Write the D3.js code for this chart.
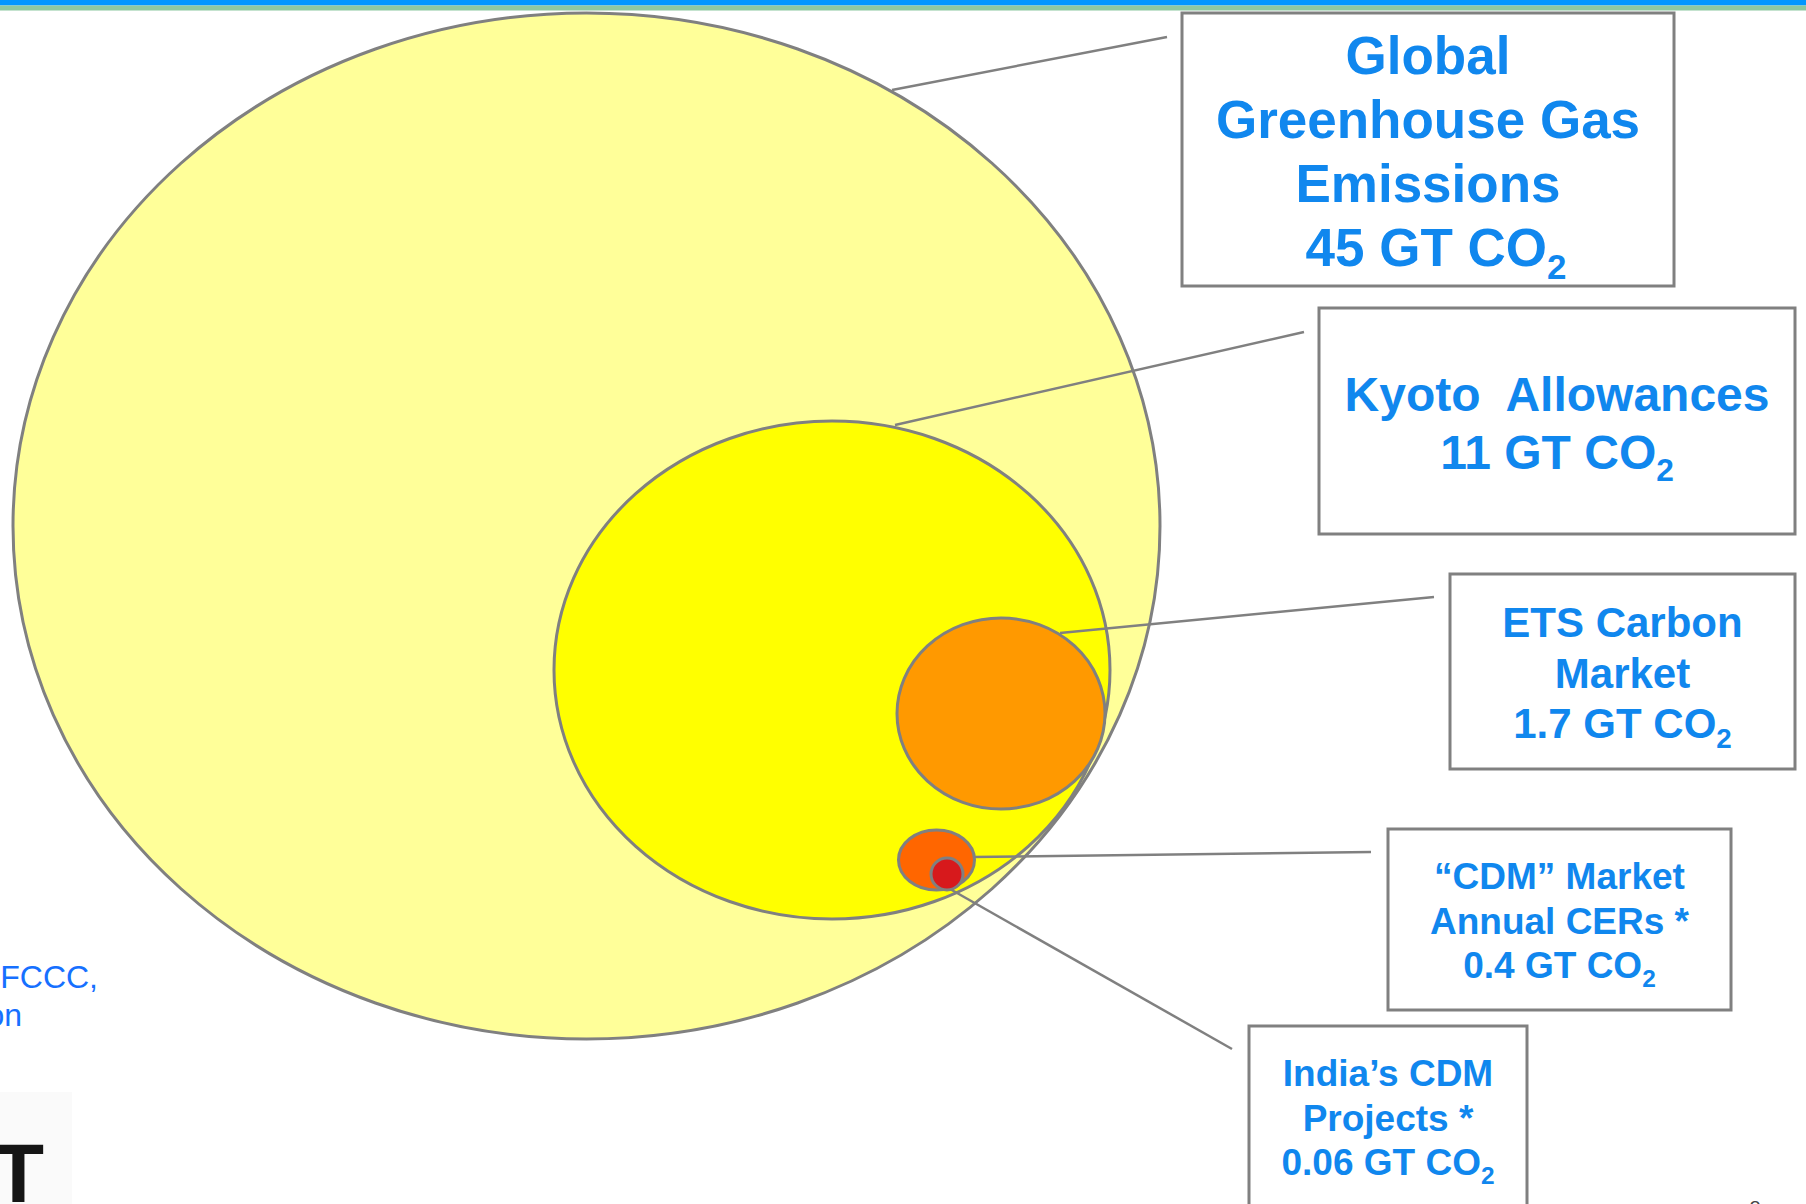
<!DOCTYPE html>
<html>
<head>
<meta charset="utf-8">
<script src="https://cdn.jsdelivr.net/npm/d3@7"></script>
<style>
  body { margin: 0; background: #fff; }
  svg { display: block; }
</style>
</head>
<body>
<div id="chart"></div>
<script>
//Data
var names = ["Global Greenhouse Gas Emissions", "Kyoto Allowances", "ETS Carbon Market", "CDM Market Annual CERs", "India's CDM Projects"];
var values = [45, 11, 1.7, 0.4, 0.06];   // GT CO2
var labelLines = [
	["Global", "Greenhouse Gas", "Emissions"],
	["Kyoto  Allowances"],
	["ETS Carbon", "Market"],
	["\u201CCDM\u201D Market", "Annual CERs *"],
	["India\u2019s CDM", "Projects *"]
];
var unit = "GT CO";
var sourceLines = ["Source: UNFCCC,", "European Commission"];

//Layout of the diagram (hand placed, like the slide)
var w = 1806, h = 1204;
var shapes = [
	{ cx: 586.5, cy: 526, rx: 573.5, ry: 513, fill: "#FFFF99" },
	{ cx: 832, cy: 670, rx: 278, ry: 249, fill: "#FFFF00" },
	{ cx: 1001, cy: 713.5, rx: 104, ry: 95.5, fill: "#FF9900" },
	{ cx: 936.5, cy: 860, rx: 38, ry: 30, fill: "#FF6600" },
	{ cx: 947, cy: 874, rx: 16, ry: 16, fill: "#D7191C" }
];
var boxes = [
	{ x: 1182, y: 13, w: 492, h: 273, fs: 53, lh: 64, top: 74, shift: 8 },
	{ x: 1319, y: 308, w: 476, h: 226, fs: 48, lh: 58, top: 411, shift: 0 },
	{ x: 1450, y: 574, w: 345, h: 195, fs: 42, lh: 50.5, top: 637, shift: 0 },
	{ x: 1388, y: 829, w: 343, h: 181, fs: 37, lh: 44.5, top: 889, shift: 0 },
	{ x: 1249, y: 1026, w: 278, h: 200, fs: 37, lh: 44.5, top: 1086, shift: 0 }
];
var leaders = [
	[[892, 90], [1167, 37]],
	[[895, 425], [1304, 332]],
	[[1060, 633], [1434, 597]],
	[[973, 857], [1371, 852]],
	[[950, 889], [1232, 1049]]
];

var blue = "#1087EE";
var grey = "#808080";
var fmt = d3.format("");

var svg = d3.select("#chart")
	.append("svg")
	.attr("width", w)
	.attr("height", h)
	.style("font-family", "'Liberation Sans', Arial, sans-serif");

//Top stripes
svg.append("rect").attr("x", 0).attr("y", 0).attr("width", w).attr("height", 5.5).attr("fill", "#0096FF");
svg.append("rect").attr("x", 0).attr("y", 5.5).attr("width", w).attr("height", 5).attr("fill", "#8CC8A0");

//Nested ellipses
svg.selectAll("ellipse")
	.data(values)
	.enter()
	.append("ellipse")
	.attr("cx", function (d, i) { return shapes[i].cx; })
	.attr("cy", function (d, i) { return shapes[i].cy; })
	.attr("rx", function (d, i) { return shapes[i].rx; })
	.attr("ry", function (d, i) { return shapes[i].ry; })
	.attr("fill", function (d, i) { return shapes[i].fill; })
	.attr("stroke", grey)
	.attr("stroke-width", 3)
	.append("title")
	.text(function (d, i) { return names[i] + ": " + d + " GT CO2"; });

//Leader lines
svg.selectAll("line.leader")
	.data(leaders)
	.enter()
	.append("line")
	.attr("class", "leader")
	.attr("x1", function (d) { return d[0][0]; })
	.attr("y1", function (d) { return d[0][1]; })
	.attr("x2", function (d) { return d[1][0]; })
	.attr("y2", function (d) { return d[1][1]; })
	.attr("stroke", grey)
	.attr("stroke-width", 2.5);

//Label boxes
var lab = svg.selectAll("g.label")
	.data(values)
	.enter()
	.append("g")
	.attr("class", "label");

lab.append("rect")
	.attr("x", function (d, i) { return boxes[i].x; })
	.attr("y", function (d, i) { return boxes[i].y; })
	.attr("width", function (d, i) { return boxes[i].w; })
	.attr("height", function (d, i) { return boxes[i].h; })
	.attr("fill", "#fff")
	.attr("stroke", grey)
	.attr("stroke-width", 3);

lab.each(function (d, i) {
	var b = boxes[i];
	var g = d3.select(this);
	var cx = b.x + b.w / 2;
	var lines = labelLines[i];
	lines.forEach(function (t, j) {
		g.append("text")
			.attr("x", cx)
			.attr("y", b.top + j * b.lh)
			.attr("text-anchor", "middle")
			.attr("font-size", b.fs)
			.attr("font-weight", "bold")
			.attr("fill", blue)
			.style("white-space", "pre")
			.text(t);
	});
	//value line with subscript 2
	var vt = g.append("text")
		.attr("x", cx + b.shift)
		.attr("y", b.top + lines.length * b.lh)
		.attr("text-anchor", "middle")
		.attr("font-size", b.fs)
		.attr("font-weight", "bold")
		.attr("fill", blue);
	vt.append("tspan").text(fmt(d) + " " + unit);
	vt.append("tspan")
		.attr("font-size", b.fs * 0.66)
		.attr("dy", b.fs * 0.24)
		.text("2");
});

//Source note, cut at the left edge as on the slide
svg.selectAll("text.source")
	.data(sourceLines)
	.enter()
	.append("text")
	.attr("class", "source")
	.attr("x", function (d, i) { return i === 0 ? 98 : 22; })
	.attr("y", function (d, i) { return 988 + i * 38; })
	.attr("text-anchor", "end")
	.attr("font-size", 32)
	.attr("fill", "#1670FF")
	.text(function (d) { return d; });

//Logo fragment bottom left
svg.append("rect").attr("x", 0).attr("y", 1092).attr("width", 72).attr("height", 112).attr("fill", "#FAFAFA");
svg.append("text")
	.attr("x", 44)
	.attr("y", 1202)
	.attr("text-anchor", "end")
	.attr("font-size", 84)
	.attr("font-weight", "bold")
	.attr("fill", "#151515")
	.text("T");

//Page number
svg.append("text")
	.attr("x", 1755)
	.attr("y", 1215)
	.attr("text-anchor", "middle")
	.attr("font-size", 20)
	.attr("fill", "#444")
	.text("8");
</script>
</body>
</html>
